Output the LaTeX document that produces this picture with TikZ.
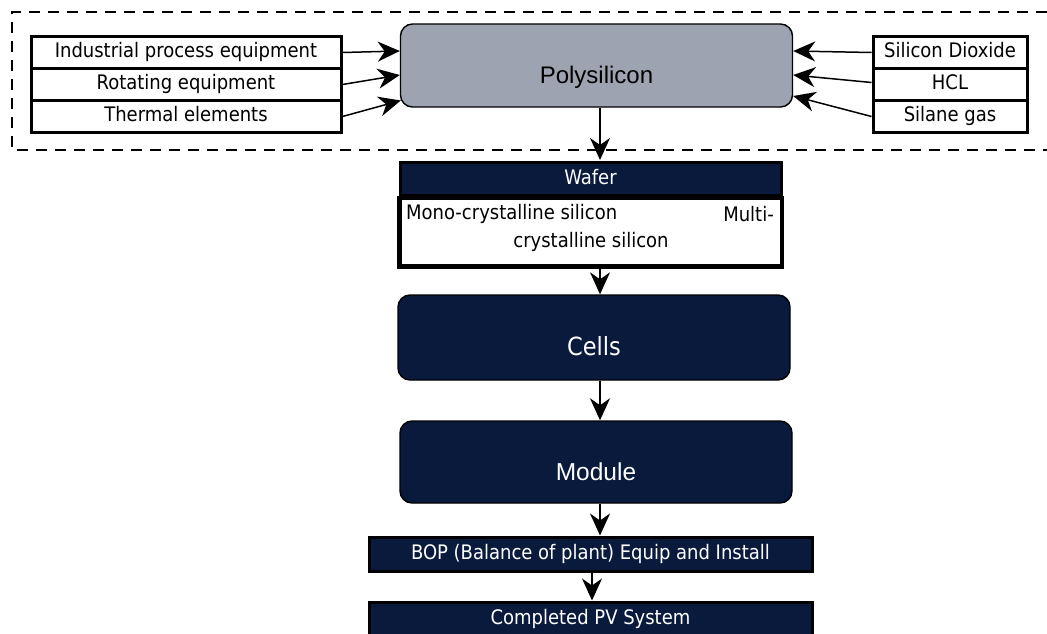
\documentclass[tikz,border=0pt]{standalone}
\usepackage{fontspec}
\usetikzlibrary{arrows.meta,calc}
\newfontfamily\tah{DejaVu Sans Condensed}
\newfontfamily\ari{Liberation Sans}
\definecolor{navy}{HTML}{0A1A3D}
\definecolor{polygray}{HTML}{9EA3B1}
\begin{document}
\begin{tikzpicture}[x=1pt,y=-1pt,
  small/.style={font=\tah\fontsize{20}{24}\selectfont},
  inbox/.style={draw=black, line width=3pt, fill=white, small, inner sep=0pt,
    minimum width=#1, minimum height=32, text height=14, text depth=4},
  darkbar/.style={draw=black, line width=3pt, fill=navy, text=white, small,
    inner sep=0pt, minimum width=#1, text height=14, text depth=4},
  bigbox/.style={draw=black, line width=1.4pt, rounded corners=12pt,
    inner sep=0pt, minimum width=392, minimum height=#1,
    text height=41, text depth=5},
  arr/.style={line width=1.5pt, -{Stealth[length=22pt,width=20pt,inset=7pt]}},
]
\useasboundingbox (0,0) rectangle (1047,634);

% dashed frame around the polysilicon stage
\draw[line width=2.4pt, dash pattern=on 11pt off 8pt]
  (1047,12) -- (12,12) -- (12,150) -- (1047,150);

% polysilicon
\node[bigbox=83, fill=polygray, font=\ari\fontsize{24}{28}\selectfont]
  (poly) at (596.5,65.5) {Polysilicon};

% equipment inputs
\node[inbox=310] (ipe) at (186,52.5) {Industrial process equipment};
\node[inbox=310] (rot) at (186,84.5) {Rotating equipment};
\node[inbox=310] (the) at (186,116.5) {Thermal elements};

% material inputs
\node[inbox=154] (sio) at (950,52.5) {Silicon Dioxide};
\node[inbox=154] (hcl) at (950,84.5) {HCL};
\node[inbox=154] (sil) at (950,116.5) {Silane gas};

\draw[arr] (ipe.east) -- ($(poly.west)+(0,-14.5)$);
\draw[arr] (rot.east) -- ($(poly.west)+(0,9.5)$);
\draw[arr] (the.east) -- ($(poly.west)+(1,35)$);
\draw[arr] (sio.west) -- ($(poly.east)+(0,-14.5)$);
\draw[arr] ($(hcl.west)+(0,-2)$) -- ($(poly.east)+(0,9.5)$);
\draw[arr] (sil.west) -- ($(poly.east)+(0,30.5)$);

% wafer
\node[darkbar=381, minimum height=33] (wafer) at (590.5,179) {Wafer};
\node[draw=black, line width=3pt, fill=white, small, inner sep=0pt,
  minimum width=381, minimum height=67, anchor=north] (wbody) at (wafer.south) {};
\node[small, anchor=west, inner sep=0pt] (mono) at (406,214) {Mono-crystalline silicon};
\node[small, anchor=east, inner sep=0pt] (multi) at (774,214) {Multi-};
\node[small, inner sep=0pt] (cryst) at (591,242) {crystalline silicon};
\draw[line width=3pt] (wafer.south west) rectangle (wbody.south east);

% cells and module
\node[bigbox=85, fill=navy, text=white, font=\tah\fontsize{25}{30}\selectfont]
  (cells) at (594,337.5) {Cells};
\node[bigbox=82, fill=navy, text=white, font=\ari\fontsize{24.5}{28}\selectfont]
  (module) at (596,462) {Module};

% balance of plant and system
\node[darkbar=443, minimum height=34] (bop) at (590.5,554) {BOP (Balance of plant) Equip and Install};
\node[darkbar=443, minimum height=34] (pv) at (590.5,619) {Completed PV System};

% flow
\coordinate (ax) at (600,0);
\coordinate (bx) at (592,0);
\draw[arr] (poly.south -| ax) -- ($(wafer.north -| ax)+(0,-1)$);
\draw[arr] (wbody.south -| ax) -- (cells.north -| ax);
\draw[arr] (cells.south -| ax) -- (module.north -| ax);
\draw[arr] (module.south -| ax) -- (bop.north -| ax);
\draw[arr] (bop.south -| bx) -- (pv.north -| bx);
\end{tikzpicture}
\end{document}
